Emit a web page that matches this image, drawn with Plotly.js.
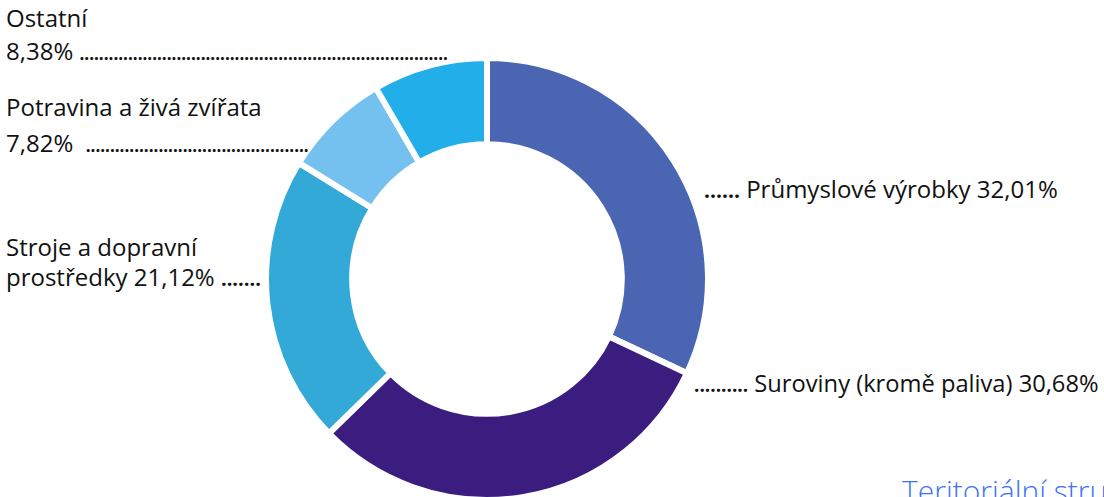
<!DOCTYPE html>
<html>
<head>
<meta charset="utf-8">
<script src="https://cdn.plot.ly/plotly-3.0.1.min.js"></script>
<style>
html,body{margin:0;padding:0;overflow:hidden;background:#fff;}
#chart{width:1104px;height:502px;}
</style>
</head>
<body>
<div id="chart"></div>
<script>
const categories = ["Průmyslové výrobky", "Suroviny (kromě paliva)", "Stroje a dopravní prostředky", "Potravina a živá zvířata", "Ostatní"];
const shares = [32.01, 30.68, 21.12, 7.82, 8.38];
const shareLabels = ["32,01%", "30,68%", "21,12%", "7,82%", "8,38%"];
const colors = ["#4a66b3", "#3a1d7f", "#32a9d6", "#74c0ee", "#22afe9"];

const W = 1104, H = 502;
const px = x => x / W;
const py = y => (H - y) / H;
const FONT = "Open Sans, sans-serif";

const trace = {
  type: "pie",
  labels: categories,
  values: shares,
  hole: 0.61,
  sort: false,
  direction: "clockwise",
  rotation: 0,
  textinfo: "none",
  hoverinfo: "label+percent",
  marker: {colors: colors, line: {color: "#ffffff", width: 6}},
  domain: {x: [px(266), px(708)], y: [py(500), py(58)]},
  showlegend: false
};

function ann(text, x, y, opts) {
  return Object.assign({
    text: text, xref: "paper", yref: "paper", x: px(x), y: py(y),
    xanchor: "left", yanchor: "middle", showarrow: false,
    font: {family: FONT, size: 24, color: "#111111"}
  }, opts || {});
}

const dots = (n, size) => '<span style="font-size:' + size + 'px"><b>' + ".".repeat(n) + '</b></span>';

const annotations = [
  ann(categories[4], 4, 18),
  ann(shareLabels[4] + " " + dots(76, 17), 4, 50),
  ann(categories[3], 4, 106),
  ann(shareLabels[3] + "  " + dots(46, 17), 4, 143),
  ann("Stroje a dopravní", 4, 246),
  ann("prostředky " + shareLabels[2] + " " + dots(7, 20), 4, 276),
  ann(dots(6, 21) + " " + categories[0] + " " + shareLabels[0], 702, 188),
  ann(dots(10, 19) + " " + categories[1] + " " + shareLabels[1], 692, 383, {font: {family: FONT, size: 23.7, color: "#111111"}}),
  ann("Teritoriální struktura", 900, 490, {font: {family: FONT, size: 30, color: "#3f72f2", weight: 300}})
];

const layout = {
  width: W, height: H,
  margin: {l: 0, r: 0, t: 0, b: 0},
  paper_bgcolor: "#ffffff",
  plot_bgcolor: "#ffffff",
  annotations: annotations
};

Plotly.newPlot("chart", [trace], layout, {displayModeBar: false, staticPlot: true});
</script>
</body>
</html>
